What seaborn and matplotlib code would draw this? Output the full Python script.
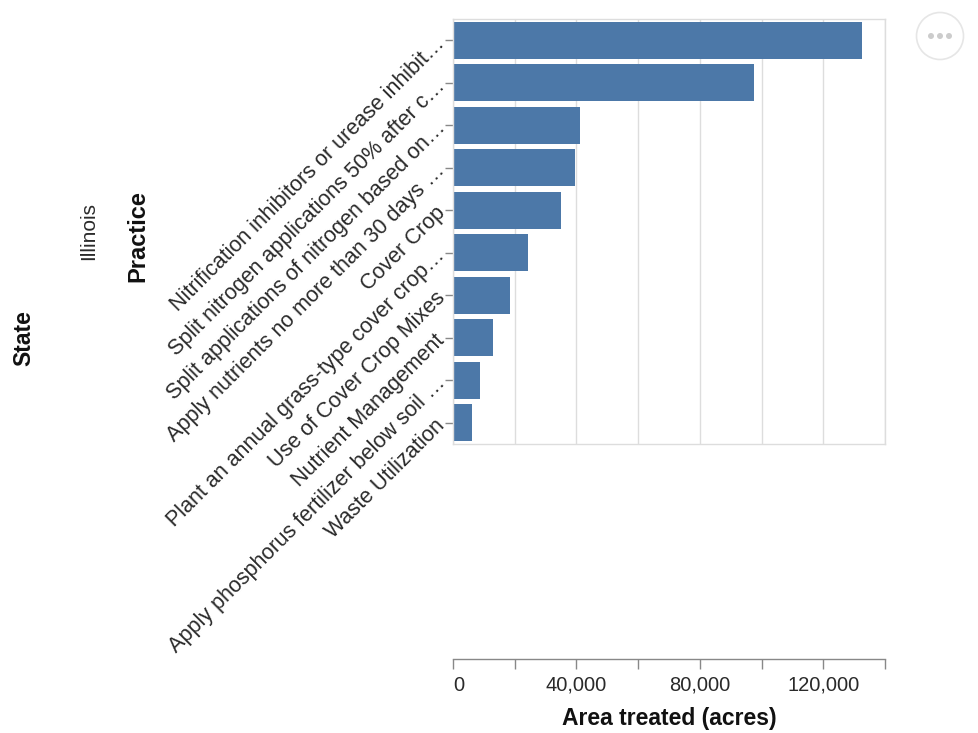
import numpy as np
import pandas as pd
import seaborn as sns
import matplotlib
matplotlib.use("Agg")
import matplotlib.pyplot as plt
from matplotlib.patches import Circle

# values (Illinois, acres treated per practice)
practices = [
    "Nitrification inhibitors or urease inhibit…",
    "Split nitrogen applications 50% after c…",
    "Split applications of nitrogen based on…",
    "Apply nutrients no more than 30 days …",
    "Cover Crop",
    "Plant an annual grass-type cover crop…",
    "Use of Cover Crop Mixes",
    "Nutrient Management",
    "Apply phosphorus fertilizer below soil …",
    "Waste Utilization",
]
acres = [132700, 97600, 41200, 39400, 35100, 24200, 18600, 12900, 8700, 6000]
state = "Illinois"

x_ticks = list(range(0, 140001, 20000))
x_labels = ["0", "", "40,000", "", "80,000", "", "120,000", ""]

df = pd.DataFrame({"Practice": practices, "Area": acres, "State": state})

sns.set_theme(style="white")
plt.rcParams["font.family"] = ["Liberation Sans", "DejaVu Sans"]

W, H = 979, 733
fig = plt.figure(figsize=(W / 100, H / 100), dpi=100)

def fx(px):
    return px / W

def fy(py):
    return 1 - py / H

# main plot area
ax = fig.add_axes([fx(453), fy(444), fx(885) - fx(453), fy(19) - fy(444)])
sns.barplot(data=df, x="Area", y="Practice", orient="h", color="#4c78a8",
            saturation=1, width=0.88, edgecolor="none", ax=ax)
ax.set_xlim(0, 140000)
ax.set_ylim(9.5, -0.5)
ax.set_xticks(x_ticks)
ax.set_xticklabels([])
ax.tick_params(axis="x", length=0)
ax.grid(axis="x", color="#dddddd", linewidth=1)
ax.set_axisbelow(True)
for s in ax.spines.values():
    s.set_color("#dddddd")
    s.set_linewidth(1)
ax.set_xlabel("")
ax.set_ylabel("")
ax.set_yticks(range(len(practices)))
ax.set_yticklabels(practices, rotation=45, ha="right", va="center",
                   rotation_mode="anchor", fontsize=15.5, color="#2a2a2a")
ax.tick_params(axis="y", left=True, length=6, width=1, color="#888888", pad=2)

# detached x axis at the bottom
ax2 = fig.add_axes([fx(453), fy(659), fx(885) - fx(453), 0.0001])
ax2.set_xlim(0, 140000)
ax2.set_yticks([])
for k in ["top", "left", "right"]:
    ax2.spines[k].set_visible(False)
ax2.spines["bottom"].set_color("#888888")
ax2.spines["bottom"].set_linewidth(1)
ax2.set_xticks(x_ticks)
ax2.set_xticklabels(x_labels, fontsize=14.5, color="#2a2a2a")
ax2.get_xticklabels()[0].set_ha("left")
ax2.tick_params(axis="x", bottom=True, length=7, width=1, color="#888888", pad=5)
ax2.set_xlabel("Area treated (acres)", fontsize=16.5, fontweight="bold",
               labelpad=9, color="#111111")
ax2.patch.set_alpha(0)

# facet/axis titles
fig.text(fx(138), fy(236), "Practice", rotation=90, ha="center", va="center",
         fontsize=17, fontweight="bold", color="#111111")
fig.text(fx(89), fy(231), state, rotation=90, ha="center", va="center",
         fontsize=15, color="#2a2a2a")
fig.text(fx(24), fy(338), "State", rotation=90, ha="center", va="center",
         fontsize=16.5, fontweight="bold", color="#111111")

# actions button (embed menu)
tr = fig.dpi_scale_trans
fig.patches.append(Circle((9.40, (H - 36) / 100), 0.235, transform=tr,
                          fc="white", ec="#e6e6e6", lw=1.2))
for cx in [9.31, 9.40, 9.49]:
    fig.patches.append(Circle((cx, (H - 36) / 100), 0.03, transform=tr,
                              fc="#cccccc", ec="none"))

fig.savefig("out.png", dpi=100)
